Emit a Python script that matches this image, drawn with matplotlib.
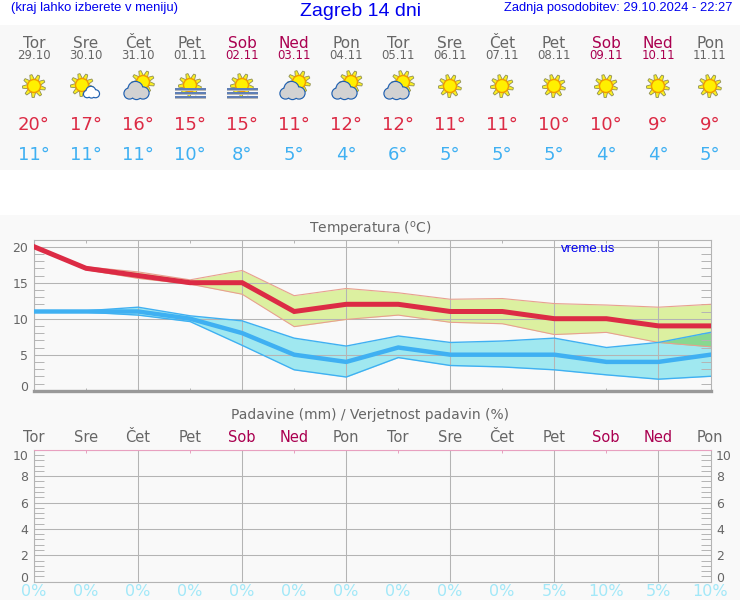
import numpy as np
import matplotlib

matplotlib.use("Agg")

import matplotlib.pyplot as plt
from matplotlib.patches import Circle, Polygon, Rectangle

# forecast data
days = ["Tor", "Sre", "Čet", "Pet", "Sob", "Ned", "Pon", "Tor", "Sre", "Čet", "Pet", "Sob", "Ned", "Pon"]
dates = ["29.10", "30.10", "31.10", "01.11", "02.11", "03.11", "04.11",
         "05.11", "06.11", "07.11", "08.11", "09.11", "10.11", "11.11"]
icons = ["sun", "sun_cloud", "cloud_sun", "fog", "fog", "cloud_sun", "cloud_sun",
         "cloud_sun", "sun", "sun", "sun", "sun", "sun", "sun"]
t_max = [20, 17, 16, 15, 15, 11, 12, 12, 11, 11, 10, 10, 9, 9]
t_min = [11, 11, 11, 10, 8, 5, 4, 6, 5, 5, 5, 4, 4, 5]
max_upper = [20, 17.2, 16.5, 15.4, 16.7, 13.2, 14.2, 13.6, 12.7, 12.8, 12.1, 11.9, 11.6, 12.0]
max_lower = [20, 16.8, 15.6, 14.8, 13.4, 8.9, 9.9, 10.5, 9.5, 9.3, 7.8, 8.1, 6.7, 6.1]
min_upper = [11.1, 11.1, 11.6, 10.4, 9.7, 7.3, 6.2, 7.6, 6.7, 6.9, 7.3, 6.0, 6.7, 8.1]
min_lower = [10.9, 10.9, 10.5, 9.6, 6.3, 2.9, 1.9, 4.6, 3.5, 3.3, 2.9, 2.2, 1.6, 2.0]
rain_prob = [0, 0, 0, 0, 0, 0, 0, 0, 0, 0, 5, 10, 5, 10]

WIDTH, HEIGHT = 740, 600
BG = "#f9f9f9"
TEXT = "#666666"
WEEKEND = "#aa0050"
RED = "#dc2b45"
BLUE = "#3fb0f2"
GRID = "#b4b4b4"
LINK = "#0000ee"
SANS = "Liberation Sans"

plt.rcParams["font.family"] = ["DejaVu Sans"]

fig = plt.figure(figsize=(WIDTH / 100, HEIGHT / 100), dpi=100, facecolor="white")

# overlay in pixel coordinates for the header, icons and captions
over = fig.add_axes([0, 0, 1, 1], zorder=5)
over.set_xlim(0, WIDTH)
over.set_ylim(HEIGHT, 0)
over.axis("off")
over.patch.set_alpha(0)


def px_axes(left, top, right, bottom):
    return fig.add_axes([left / WIDTH, 1 - bottom / HEIGHT, (right - left) / WIDTH, (bottom - top) / HEIGHT],
                        zorder=2)


def day_color(i):
    return WEEKEND if days[i] in ("Sob", "Ned") else TEXT


def draw_sun(cx, cy, z=6, r=6.5, ray=11.5):
    c = np.array([cx, cy])
    for a in np.linspace(0, 2 * np.pi, 9, endpoint=False) + 0.25:
        d = np.array([np.cos(a), np.sin(a)])
        n = np.array([-d[1], d[0]])
        pts = [c + d * (r - 1) + n * 2.2, c + d * ray + n * 1.1, c + d * ray - n * 1.1, c + d * (r - 1) - n * 2.2]
        over.add_patch(Polygon(pts, fc="#fbf020", ec="#8f8f55", lw=0.6, zorder=z))
    over.add_patch(Circle((cx, cy), r, fc="#fff000", ec="#f29a00", lw=1.0, zorder=z + 0.1))


def draw_cloud(cx, cy, scale, fill, z=7):
    blobs = [(-7, 2.5, 5), (-1, -2, 7), (6.5, 2, 5.5), (0, 3, 5)]
    for bx, by, r in blobs:
        over.add_patch(Circle((cx + bx * scale, cy + by * scale), r * scale, fc=fill, ec="#2060b0",
                              lw=1.7, zorder=z))
    for bx, by, r in blobs:
        over.add_patch(Circle((cx + bx * scale, cy + by * scale), r * scale, fc=fill, ec="none", zorder=z + 0.1))


def draw_fog(cx, cy):
    draw_sun(cx, cy - 1)
    for dy in (3, 7, 11):
        over.add_patch(Rectangle((cx - 15.5, cy + dy + 0.6), 31, 1.2, fc="#b8b8b8", ec="none", zorder=7))
        over.add_patch(Rectangle((cx - 15.5, cy + dy - 0.6), 31, 1.2, fc="#5f7fb5", ec="none", zorder=7.1))


def draw_icon(kind, cx, cy):
    if kind == "sun":
        draw_sun(cx, cy)
    elif kind == "sun_cloud":
        draw_sun(cx - 4, cy - 1)
        draw_cloud(cx + 5.5, cy + 6.5, 0.62, "white")
    elif kind == "cloud_sun":
        draw_sun(cx + 5, cy - 4)
        draw_cloud(cx - 1.5, cy + 5, 1.0, "#d2d2d2")
    else:
        draw_fog(cx, cy)


# backgrounds of the page blocks
fig.patches.append(Rectangle((0, 1 - 170 / HEIGHT), 1, 145 / HEIGHT, transform=fig.transFigure, fc="#f8f8f8", ec="none"))
fig.patches.append(Rectangle((0, 0), 1, 1 - 215 / HEIGHT, transform=fig.transFigure, fc=BG, ec="none"))

# header
over.text(11, 8.5, "(kraj lahko izberete v meniju)", color=LINK, fontsize=9.4, family=SANS, va="center")
over.text(361, 11, "Zagreb 14 dni", color=LINK, fontsize=14, family=SANS, ha="center", va="center")
over.text(732, 8.5, "Zadnja posodobitev: 29.10.2024 - 22:27", color=LINK, fontsize=9.3, family=SANS, ha="right", va="center")

x_px = [34 + 52 * i for i in range(len(days))]
for i, cx in enumerate(x_px):
    over.text(cx, 43, days[i], color=day_color(i), fontsize=11, ha="center", va="center")
    over.text(cx, 55.5, dates[i], color=day_color(i), fontsize=8.5, ha="center", va="center")
    draw_icon(icons[i], cx, 86)
    over.text(cx, 125.5, f"{t_max[i]}°", color=RED, fontsize=13, ha="center", va="center")
    over.text(cx, 155.5, f"{t_min[i]}°", color=BLUE, fontsize=13, ha="center", va="center")
    over.text(cx, 437, days[i], color=day_color(i), fontsize=10.5, ha="center", va="center")
    over.text(cx, 591.5, f"{rain_prob[i]}%", color="#a2e8f8", fontsize=11.5, ha="center", va="center")

over.text(370, 229, "Temperatura ($\\mathregular{^o}$C)", color=TEXT, fontsize=10, ha="center", va="center")
over.text(370, 415.5, "Padavine (mm) / Verjetnost padavin (%)", color=TEXT, fontsize=10, ha="center", va="center")
over.text(561, 249, "vreme.us", color=LINK, fontsize=9.5, family=SANS, va="center")

# temperature panel
x = np.arange(len(days))
ax = px_axes(34, 239.5, 710.5, 390.7)
ax.set_facecolor(BG)
ax.set_xlim(0, 13)
ax.set_ylim(0, 21)
ax.fill_between(x, max_lower, max_upper, color="#dcf0a0", lw=0, zorder=1)
ax.fill_between(x, min_lower, min_upper, color="#a0e8f0", lw=0, zorder=1.1)
ax.fill_between(x, max_lower, min_upper, where=np.array(min_upper) > np.array(max_lower), interpolate=True,
                color="#88d890", lw=0, zorder=1.2)
ax.plot(x, max_upper, color="#e8a090", lw=0.8, zorder=2)
ax.plot(x, max_lower, color="#e8a090", lw=0.8, zorder=2)
ax.plot(x, min_upper, color=BLUE, lw=1.0, zorder=2)
ax.plot(x, min_lower, color=BLUE, lw=1.0, zorder=2)
ax.plot(x, t_min, color=BLUE, lw=3.2, solid_joinstyle="miter", zorder=3)
ax.plot(x, t_max, color=RED, lw=3.6, solid_joinstyle="miter", zorder=3.1)
ax.set_yticks([0, 5, 10, 15, 20])
ax.set_yticks([v for v in range(1, 21) if v % 5], minor=True)

# precipitation panel
ax2 = px_axes(34, 449.7, 710.5, 581.7)
ax2.set_facecolor(BG)
ax2.set_xlim(0, 13)
ax2.set_ylim(0, 10)
ax2.set_yticks([0, 2, 4, 6, 8, 10])
ax2.set_yticks([v for v in np.arange(0.4, 10, 0.4) if abs(v / 2 - round(v / 2)) > 0.01], minor=True)

for a in (ax, ax2):
    a.set_axisbelow("line")
    a.set_xticks(np.arange(0, 14, 2))
    a.set_xticks(np.arange(1, 14, 2), minor=True)
    a.set_xticklabels([])
    a.grid(True, which="major", color=GRID, lw=0.75)
    a.tick_params(axis="x", which="major", length=0)
    a.tick_params(axis="x", which="minor", direction="in", top=True, bottom=True, length=2.5, width=0.7, color=GRID)
    a.tick_params(axis="y", which="major", length=0, labelsize=9, labelcolor=TEXT, pad=4)
    a.tick_params(axis="y", which="minor", direction="in", left=True, right=True, length=7.5, width=0.7, color=GRID)
    for s in a.spines.values():
        s.set_color(GRID)
        s.set_linewidth(0.8)

ax.spines["bottom"].set_color("#999999")
ax.spines["bottom"].set_linewidth(2.4)
ax.yaxis.get_major_ticks()[0].label1.set_va("baseline")

ax2.spines["top"].set_color("#e8a0c0")
ax2.tick_params(axis="x", which="minor", top=True, bottom=False, color="#e8a0c0")
ax2.tick_params(axis="y", which="major", labelright=True)
ticks2 = ax2.yaxis.get_major_ticks()
ticks2[0].label1.set_va("baseline")
ticks2[0].label2.set_va("baseline")
ticks2[-1].label1.set_va("top")
ticks2[-1].label2.set_va("top")

fig.savefig("out.png", dpi=100, facecolor=fig.get_facecolor())
